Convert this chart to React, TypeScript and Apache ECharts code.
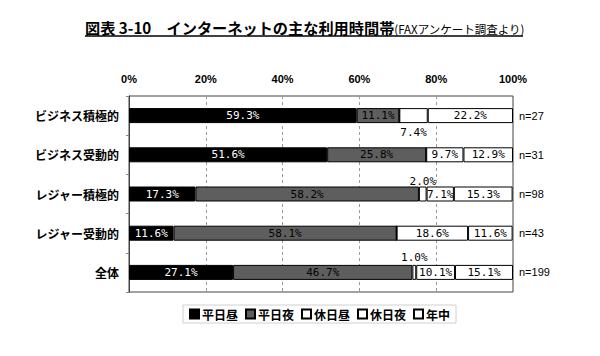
import React, { useEffect, useRef } from "react";
import * as echarts from "echarts";

const categories = ["ビジネス積極的", "ビジネス受動的", "レジャー積極的", "レジャー受動的", "全体"];
const nLabels = ["n=27", "n=31", "n=98", "n=43", "n=199"];
const seriesNames = ["平日昼", "平日夜", "休日昼", "休日夜", "年中"];
const weekdayDay = [59.3, 51.6, 17.3, 11.6, 27.1];
const weekdayNight = [11.1, 25.8, 58.2, 58.1, 46.7];
const holidayDay = [0, 0, 2.0, 0, 1.0];
const holidayNight = [7.4, 9.7, 7.1, 18.6, 10.1];
const allYear = [22.2, 12.9, 15.3, 11.6, 15.1];
const xTicks = [0, 20, 40, 60, 80, 100];

const seriesValues = [weekdayDay, weekdayNight, holidayDay, holidayNight, allYear];
const seriesColors = ["#000000", "#5e5e5e", "#ffffff", "#ffffff", "#ffffff"];
const labelColors = ["#ffffff", "#000000", "#000000", "#000000", "#000000"];

// labels drawn outside the bar: [seriesIndex, categoryIndex, position, distance]
const outsideLabels: [number, number, string, number][] = [
  [3, 0, "bottom", 4],
  [2, 2, "top", 0],
  [2, 4, "top", 2],
];

export default function App() {
  const ref = useRef<HTMLDivElement>(null);
  useEffect(() => {
    if (!ref.current) return;
    const chart = echarts.init(ref.current, null, { renderer: "svg" });
    const font = '"Noto Sans CJK JP", "Noto Sans", sans-serif';
    const series = seriesNames.map((name, si) => ({
      name,
      type: "bar",
      stack: "total",
      barWidth: 15,
      xAxisIndex: 0,
      yAxisIndex: 0,
      itemStyle: { color: seriesColors[si], borderColor: "#000", borderWidth: 1 },
      label: {
        show: true,
        position: "inside",
        color: labelColors[si],
        fontSize: 11,
        fontFamily: '"DejaVu Sans Mono", monospace',
        formatter: (p: any) => (p.value > 0 ? p.value.toFixed(1) + "%" : ""),
      },
      data: seriesValues[si].map((v, ci) => {
        const o = outsideLabels.find((x) => x[0] === si && x[1] === ci);
        if (!o) return v;
        return { value: v, label: { position: o[2], distance: o[3], color: "#000" } };
      }),
    }));
    chart.setOption({
      animation: false,
      textStyle: { fontFamily: font },
      graphic: [
        {
          type: "text",
          x: 85,
          y: 35,
          style: {
            text: "{a|図表 3-10　インターネットの主な利用時間帯}{b|(FAXアンケート調査より)}",
            textVerticalAlign: "bottom",
            verticalAlign: "bottom",
            rich: {
              a: { fontSize: 15.2, fontWeight: "bold", fontFamily: font, fill: "#000", verticalAlign: "bottom" },
              b: { fontSize: 11.5, fontFamily: font, fill: "#000", verticalAlign: "bottom" },
            },
          },
        },
        {
          type: "line",
          shape: { x1: 85, y1: 36, x2: 523, y2: 36 },
          style: { stroke: "#000", lineWidth: 1.5 },
        },
      ],
      legend: {
        data: seriesNames,
        left: 183,
        top: 305,
        itemWidth: 9,
        itemHeight: 9,
        itemGap: 7,
        icon: "rect",
        textStyle: { fontSize: 12, fontWeight: "bold", color: "#000", fontFamily: font, padding: [0, 0, 0, -2] },
        borderColor: "#d0d0d0",
        borderWidth: 1,
        padding: [3, 6],
      },
      grid: { left: 129, right: 87, top: 96, bottom: 64, show: true, borderColor: "#444", borderWidth: 1 },
      xAxis: {
        type: "value",
        position: "top",
        min: xTicks[0],
        max: xTicks[xTicks.length - 1],
        interval: 20,
        axisLine: { show: false },
        axisTick: { show: false },
        axisLabel: { formatter: "{value}%", fontSize: 11, fontWeight: "bold", color: "#000", margin: 12, fontFamily: '"Liberation Sans", Arial, sans-serif' },
        splitLine: { show: true, lineStyle: { type: [3, 3], color: "#9a9a9a", width: 1 } },
      },
      yAxis: [
        {
          type: "category",
          inverse: true,
          data: categories,
          axisLine: { show: true, lineStyle: { color: "#444" } },
          axisTick: { show: true, length: 3, lineStyle: { color: "#888" } },
          axisLabel: { fontSize: 12, fontWeight: "bold", color: "#000", margin: 10, fontFamily: font },
        },
        {
          type: "category",
          inverse: true,
          position: "right",
          data: nLabels,
          axisLine: { show: false },
          axisTick: { show: false },
          axisLabel: { fontSize: 11, color: "#000", margin: 6, padding: [5, 0, 0, 0], fontFamily: '"Liberation Sans", Arial, sans-serif' },
        },
      ],
      series,
    });
    return () => chart.dispose();
  }, []);
  return <div ref={ref} style={{ position: "absolute", left: 0, top: 0, width: 600, height: 356 }} />;
}
